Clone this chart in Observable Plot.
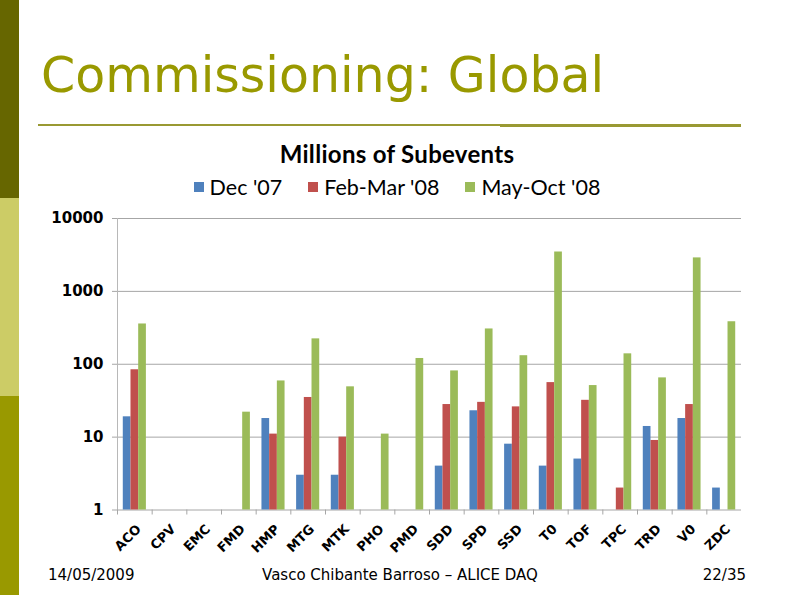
<!DOCTYPE html>
<html>
<head>
<meta charset="utf-8">
<script src="https://cdn.jsdelivr.net/npm/d3@7"></script>
<script src="https://cdn.jsdelivr.net/npm/@observablehq/plot@0.6"></script>
<style>
  html, body { margin: 0; padding: 0; background: #fff; }
  #slide { position: relative; width: 794px; height: 595px; overflow: hidden; background: #fff; font-family: "DejaVu Sans", sans-serif; }
  .band { position: absolute; left: 0; width: 19px; }
  #title { position: absolute; left: 41px; top: 51px; font-size: 49px; color: #999900; white-space: nowrap; line-height: 1; }
  #rule1 { position: absolute; left: 38px; top: 124px; width: 464px; height: 2px; background: #999933; }
  #rule2 { position: absolute; left: 500px; top: 124px; width: 241px; height: 3px; background: #999933; }
  #ctitle { position: absolute; left: 0; width: 794px; top: 139px; text-align: center; font-family: Lato, sans-serif; font-weight: bold; font-size: 24px; letter-spacing: 0.3px; color: #000; }
  #legend { position: absolute; left: 0; width: 794px; top: 174px; display: flex; justify-content: center; gap: 26px; font-family: Lato, sans-serif; font-size: 21.5px; color: #000; }
  .item { display: flex; align-items: center; gap: 6px; }
  .sw { width: 10px; height: 10px; display: inline-block; }
  #chart { position: absolute; left: 0; top: 200px; }
  .foot { position: absolute; top: 566px; font-size: 15px; color: #000; white-space: nowrap; }
</style>
</head>
<body>
<div id="slide">
  <div class="band" style="top:0;height:198px;background:#666600"></div>
  <div class="band" style="top:198px;height:198px;background:#cccc66"></div>
  <div class="band" style="top:396px;height:199px;background:#999900"></div>
  <div id="title">Commissioning: Global</div>
  <div id="rule1"></div>
  <div id="rule2"></div>
  <div id="ctitle">Millions of Subevents</div>
  <div id="legend"></div>
  <div id="chart"></div>
  <div class="foot" style="left:48px">14/05/2009</div>
  <div class="foot" style="left:0;width:800px;text-align:center">Vasco Chibante Barroso – ALICE DAQ</div>
  <div class="foot" style="right:48px">22/35</div>
</div>
<script>
const categories = ["ACO","CPV","EMC","FMD","HMP","MTG","MTK","PHO","PMD","SDD","SPD","SSD","T0","TOF","TPC","TRD","V0","ZDC"];
const seriesNames = ["Dec '07", "Feb-Mar '08", "May-Oct '08"];
const dec07    = [19, null, null, null, 18, 3, 3, null, null, 4, 23, 8, 4, 5, null, 14, 18, 2];
const febMar08 = [84, null, null, null, 11, 35, 10, null, null, 28, 30, 26, 56, 32, 2, 9, 28, null];
const mayOct08 = [357, null, null, 22, 59, 223, 49, 11, 120, 81, 305, 131, 3470, 51, 139, 65, 2880, 383];
const yTicks = [1, 10, 100, 1000, 10000];
const colors = ["#4f81bd", "#c0504d", "#9bbb59"];

const seriesValues = [dec07, febMar08, mayOct08];
const rows = (i) => categories.map((c, j) => ({cat: c, value: seriesValues[i][j]})).filter(d => d.value != null);

const W = 794, H = 360, mL = 117, mR = 53, mT = 18, mB = 50.5;
const bw = (W - mL - mR) / categories.length;
const barW = 7.7;
const inset = (bw - barW) / 2;
const offsets = [-7.7, 0, 7.7];

// legend
const leg = document.getElementById("legend");
seriesNames.forEach((s, i) => {
  const it = document.createElement("div");
  it.className = "item";
  it.innerHTML = `<span class="sw" style="background:${colors[i]}"></span><span>${s}</span>`;
  leg.appendChild(it);
});

const chart = Plot.plot({
  width: W, height: H,
  marginLeft: mL, marginRight: mR, marginTop: mT, marginBottom: mB,
  style: {fontFamily: "DejaVu Sans, sans-serif", background: "transparent"},
  x: {domain: categories, padding: 0, round: false},
  y: {type: "log", domain: [1, 10000]},
  marks: [
    Plot.gridY(yTicks, {stroke: "#a6a6a6", strokeOpacity: 1}),
    Plot.axisY(yTicks, {tickFormat: d3.format("d"), tickSize: 5, stroke: "#a6a6a6", fontSize: 15, fontWeight: "bold", fill: "#000", label: null, tickPadding: 9}),
    Plot.frame({anchor: "left", stroke: "#b8b8b8"}),
    ...[0, 1, 2].map(i => Plot.barY(rows(i), {
      x: "cat", y1: 1, y2: "value", fill: colors[i],
      insetLeft: inset + offsets[i], insetRight: inset - offsets[i]
    })),
    Plot.axisX({tickSize: 5, dx: -bw / 2, stroke: "#a6a6a6", tickFormat: () => "", label: null}),
    Plot.axisX({tickSize: 0, tickRotate: -45, fontSize: 13, fontWeight: "bold", fill: "#000", label: null, tickPadding: 17, textAnchor: "end", dx: 4})
  ]
});
document.getElementById("chart").appendChild(chart);
</script>
</body>
</html>
